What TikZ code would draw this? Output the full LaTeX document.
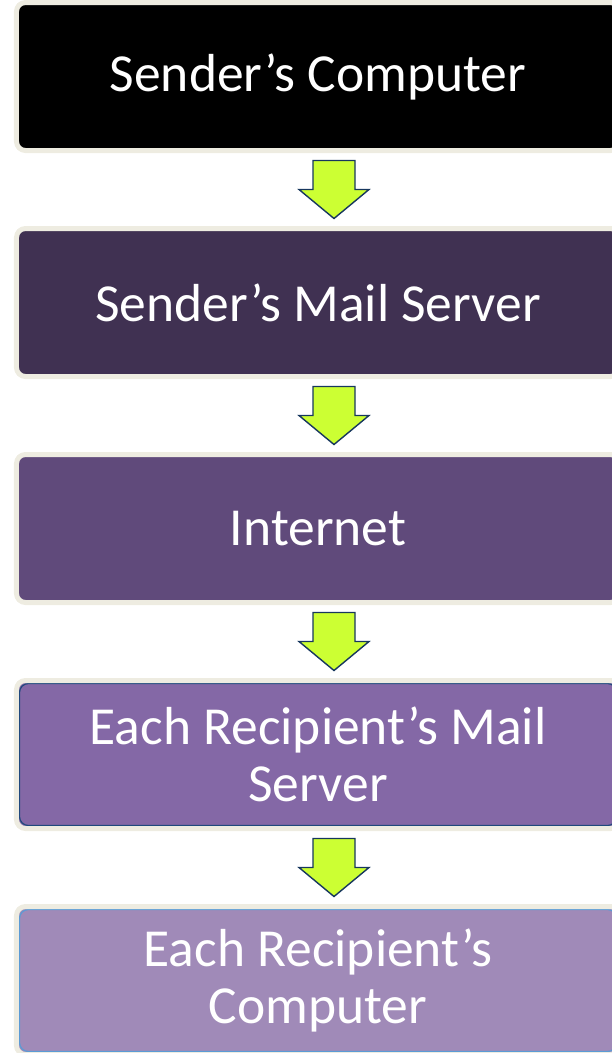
\documentclass[tikz,border=0pt]{standalone}
\usepackage{fontspec}
\setmainfont{Carlito}
\usetikzlibrary{positioning,calc}

\definecolor{frameBeige}{HTML}{EEECE1}
\definecolor{stepOne}{HTML}{000000}
\definecolor{stepTwo}{HTML}{403152}
\definecolor{stepThree}{HTML}{604A7B}
\definecolor{stepFour}{HTML}{8468A6}
\definecolor{stepFive}{HTML}{A08AB8}
\definecolor{edgeDark}{HTML}{1F497D}
\definecolor{edgeLight}{HTML}{5B9BD5}
\definecolor{arrowLime}{HTML}{CCFF33}
\definecolor{arrowEdge}{HTML}{17375E}

\tikzset{
	stepbox/.style={draw=frameBeige, line width=5bp, rounded corners=9bp,
		minimum width=603bp, minimum height=148bp, inner sep=0pt, outer sep=0pt,
		text=white, align=center, font=\fontsize{53.5bp}{57bp}\selectfont},
	edged/.style={path picture={\draw[#1, line width=1.2bp]
		([shift={(3,3)}]path picture bounding box.north west) rectangle
		([shift={(-3,-3)}]path picture bounding box.south east);}},
	limearrow/.style={fill=arrowLime, draw=arrowEdge, line width=1.4bp, line join=miter}
}

% block arrow half way between two boxes
\newcommand{\flowarrow}[2]{%
	\coordinate (m) at ($(#1.south)!0.5!(#2.north)+(16,0)$);
	\filldraw[limearrow] ([shift={(-21,-29)}]m) -- ([shift={(21,-29)}]m) -- ([shift={(21,0)}]m)
		-- ([shift={(35,0)}]m) -- ([shift={(0,29)}]m) -- ([shift={(-35,0)}]m)
		-- ([shift={(-21,0)}]m) -- cycle;}

\begin{document}
\begin{tikzpicture}[x=1bp,y=-1bp]
	\useasboundingbox (0,0) rectangle (612,1053);
	\node[stepbox, fill=stepOne] (computer) at (318,76.5) {Sender’s Computer};
	\node[stepbox, fill=stepTwo, below=78bp of computer] (server) {Sender’s Mail Server};
	\node[stepbox, fill=stepThree, below=78bp of server] (internet) {Internet};
	\node[stepbox, fill=stepFour, edged=edgeDark, below=78bp of internet] (rserver) {Each Recipient’s Mail\\Server};
	\node[stepbox, fill=stepFive, edged=edgeLight, below=78bp of rserver] (rcomputer) {Each Recipient’s\\Computer};
	\flowarrow{computer}{server}
	\flowarrow{server}{internet}
	\flowarrow{internet}{rserver}
	\flowarrow{rserver}{rcomputer}
\end{tikzpicture}
\end{document}
